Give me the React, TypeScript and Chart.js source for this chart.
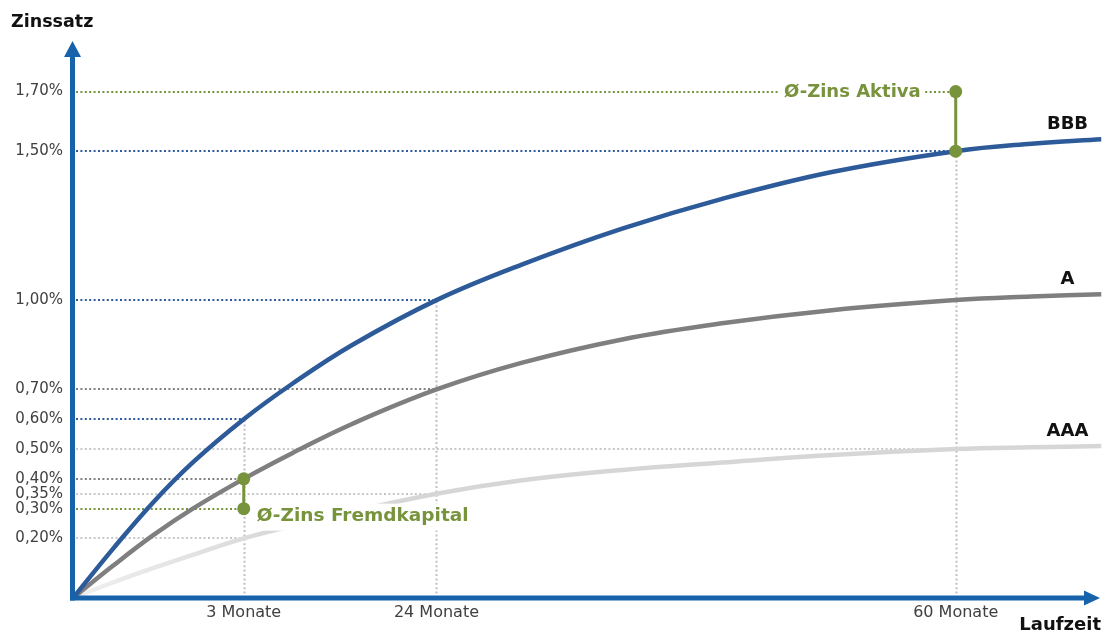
import React, { useEffect, useRef } from "react";
import { Chart, registerables } from "chart.js";

Chart.register(...registerables);

// ---- data ----
// x positions are relative "Laufzeit" units (conceptual, non-linear time axis)
const M3 = 17.1;
const M24 = 36.4;
const M60 = 88.4;
const X_MAX = 103;

const xTickValues = [M3, M24, M60];
const xTickLabels = ["3 Monate", "24 Monate", "60 Monate"];

const yTickValues = [1.7, 1.5, 1.0, 0.7, 0.6, 0.5, 0.4, 0.35, 0.3, 0.2];

const curveX = [0, 4, 8, 12, M3, 22, 28, M24, 45, 55, 65, 76, M60, 96, X_MAX];
const bbbValues = [0, 0.165, 0.32, 0.455, 0.6, 0.72, 0.85, 1.0, 1.12, 1.24, 1.34, 1.43, 1.5, 1.525, 1.54];
const aValues = [0, 0.108, 0.21, 0.3, 0.4, 0.487, 0.585, 0.7, 0.79, 0.868, 0.922, 0.966, 1.0, 1.012, 1.02];
const aaaValues = [0, 0.052, 0.1, 0.145, 0.2, 0.242, 0.29, 0.35, 0.395, 0.43, 0.455, 0.48, 0.5, 0.506, 0.51];

const seriesNames = ["BBB", "A", "AAA"];

const fremdkapitalValues = [0.3, 0.4]; // at 3 Monate
const aktivaValues = [1.5, 1.7]; // at 60 Monate

const GREEN = "#77933c";
const BLUE = "#2d5a98";
const AXIS = "#1763ab";
const DGRAY = "#7f7f7f";
const LGRAY = "#d6d6d6";

const guideLines = [
  { y: 1.7, xEnd: M60, color: GREEN },
  { y: 1.5, xEnd: M60, color: BLUE },
  { y: 1.0, xEnd: M24, color: BLUE },
  { y: 0.7, xEnd: M24, color: "#808080" },
  { y: 0.6, xEnd: M3, color: BLUE },
  { y: 0.5, xEnd: M60, color: "#c8c8c8" },
  { y: 0.4, xEnd: M3, color: "#808080" },
  { y: 0.35, xEnd: M24, color: "#c8c8c8" },
  { y: 0.3, xEnd: M3, color: GREEN },
  { y: 0.2, xEnd: M3, color: "#c8c8c8" },
];
const guideVerticals = [
  { x: M3, yTop: 0.6 },
  { x: M24, yTop: 1.0 },
  { x: M60, yTop: 1.5 },
];

const FONT = "'DejaVu Sans', sans-serif";

const toPts = (vals: number[]) => vals.map((v, i) => ({ x: curveX[i], y: v }));

const decorPlugin = {
  id: "decor",
  beforeDatasetsDraw(chart: any) {
    const { ctx, scales } = chart;
    const xs = scales.x;
    const ys = scales.y;
    ctx.save();
    ctx.lineWidth = 2;
    ctx.setLineDash([2, 2.4]);
    guideVerticals.forEach((g) => {
      ctx.strokeStyle = "#bfbfbf";
      ctx.beginPath();
      const px = Math.round(xs.getPixelForValue(g.x)) + 0.5;
      ctx.moveTo(px, ys.getPixelForValue(0));
      ctx.lineTo(px, ys.getPixelForValue(g.yTop));
      ctx.stroke();
    });
    guideLines.forEach((g) => {
      ctx.strokeStyle = g.color;
      ctx.beginPath();
      const py = Math.round(ys.getPixelForValue(g.y));
      ctx.moveTo(xs.getPixelForValue(0) + 3, py);
      ctx.lineTo(xs.getPixelForValue(g.xEnd), py);
      ctx.stroke();
    });
    ctx.restore();
  },
  afterDatasetsDraw(chart: any) {
    const { ctx, scales } = chart;
    const xs = scales.x;
    const ys = scales.y;
    ctx.save();
    ctx.textBaseline = "middle";
    // Aktiva
    {
      ctx.font = `bold 18px ${FONT}`;
      const t = "Ø-Zins Aktiva";
      const w = ctx.measureText(t).width;
      const right = xs.getPixelForValue(M60) - 35;
      const cy = ys.getPixelForValue(aktivaValues[1]);
      ctx.fillStyle = "#ffffff";
      ctx.fillRect(right - w - 4, cy - 12, w + 8, 24);
      ctx.fillStyle = GREEN;
      ctx.textAlign = "right";
      ctx.fillText(t, right, cy + 1);
    }
    // Fremdkapital
    {
      ctx.font = `bold 18.5px ${FONT}`;
      const t = "Ø-Zins Fremdkapital";
      const w = ctx.measureText(t).width;
      const left = xs.getPixelForValue(M3) + 13;
      const cy = ys.getPixelForValue(fremdkapitalValues[0]) + 8;
      ctx.fillStyle = "#ffffff";
      ctx.fillRect(left - 4, cy - 13, w + 8, 27);
      ctx.fillStyle = GREEN;
      ctx.textAlign = "left";
      ctx.fillText(t, left, cy);
    }
    // series names
    ctx.fillStyle = "#111111";
    ctx.textAlign = "center";
    ctx.font = `bold 18px ${FONT}`;
    [bbbValues, aValues, aaaValues].forEach((vals, i) => {
      const last = vals.length - 1;
      const px = xs.getPixelForValue(curveX[last]) - 34;
      const py = ys.getPixelForValue(vals[last]) - 15;
      ctx.fillText(seriesNames[i], px, py);
    });
    ctx.restore();
  },
  afterDraw(chart: any) {
    const { ctx, chartArea } = chart;
    const L = chartArea.left - 0.5;
    const B = chartArea.bottom;
    ctx.save();
    ctx.strokeStyle = AXIS;
    ctx.fillStyle = AXIS;
    ctx.lineWidth = 5;
    ctx.beginPath();
    ctx.moveTo(L, B + 2.5);
    ctx.lineTo(L, 55);
    ctx.stroke();
    ctx.beginPath();
    ctx.moveTo(L, 41);
    ctx.lineTo(L - 8.5, 57);
    ctx.lineTo(L + 8.5, 57);
    ctx.closePath();
    ctx.fill();
    ctx.beginPath();
    ctx.moveTo(L - 2.5, B);
    ctx.lineTo(1087, B);
    ctx.stroke();
    ctx.beginPath();
    ctx.moveTo(1100, B);
    ctx.lineTo(1084, B - 7.5);
    ctx.lineTo(1084, B + 7.5);
    ctx.closePath();
    ctx.fill();
    // axis titles
    ctx.fillStyle = "#111111";
    ctx.font = `bold 17.5px ${FONT}`;
    ctx.textBaseline = "middle";
    ctx.textAlign = "left";
    ctx.fillText("Zinssatz", 11, 22);
    ctx.font = `bold 18px ${FONT}`;
    ctx.textAlign = "right";
    ctx.fillText("Laufzeit", 1101, 625);
    ctx.restore();
  },
};

export default function App() {
  const ref = useRef<HTMLCanvasElement | null>(null);
  useEffect(() => {
    if (!ref.current) return;
    const chart = new Chart(ref.current, {
      type: "line",
      data: {
        datasets: [
          {
            label: "Fremdkapital",
            data: fremdkapitalValues.map((v) => ({ x: M3, y: v })),
            borderColor: GREEN,
            backgroundColor: GREEN,
            borderWidth: 3,
            pointRadius: 6.5,
            pointBorderWidth: 0,
            tension: 0,
            order: 0,
          },
          {
            label: "Aktiva",
            data: aktivaValues.map((v) => ({ x: M60, y: v })),
            borderColor: GREEN,
            backgroundColor: GREEN,
            borderWidth: 3,
            pointRadius: 6.5,
            pointBorderWidth: 0,
            tension: 0,
            order: 0,
          },
          {
            label: "BBB",
            data: toPts(bbbValues),
            borderColor: BLUE,
            borderWidth: 4.5,
            pointRadius: 0,
            tension: 0.4,
            order: 1,
          },
          {
            label: "A",
            data: toPts(aValues),
            borderColor: DGRAY,
            borderWidth: 4.5,
            pointRadius: 0,
            tension: 0.4,
            order: 2,
          },
          {
            label: "AAA",
            data: toPts(aaaValues),
            borderColor: (c: any) => {
              const ca = c.chart.chartArea;
              if (!ca) return LGRAY;
              const g = c.chart.ctx.createLinearGradient(ca.left, 0, ca.left + 220, 0);
              g.addColorStop(0, "#f0f0f0");
              g.addColorStop(1, LGRAY);
              return g;
            },
            borderWidth: 4.5,
            pointRadius: 0,
            tension: 0.4,
            order: 3,
          },
        ],
      },
      options: {
        animation: false,
        responsive: true,
        maintainAspectRatio: false,
        layout: { padding: { top: 32, right: 5, left: 0, bottom: 0 } },
        plugins: { legend: { display: false }, tooltip: { enabled: false } },
        scales: {
          x: {
            type: "linear",
            min: 0,
            max: X_MAX,
            grid: { display: false, drawTicks: false },
            border: { display: false },
            afterBuildTicks: (s: any) => {
              s.ticks = xTickValues.map((v) => ({ value: v }));
            },
            afterFit: (s: any) => {
              s.height = 36;
            },
            ticks: {
              autoSkip: false,
              maxRotation: 0,
              padding: 5,
              color: "#404040",
              font: { family: FONT, size: 16 },
              callback: (_v: any, i: number) => xTickLabels[i],
            },
          },
          y: {
            type: "linear",
            min: 0,
            max: 1.9,
            grid: { display: false, drawTicks: false },
            border: { display: false },
            afterBuildTicks: (s: any) => {
              s.ticks = yTickValues.map((v) => ({ value: v }));
            },
            afterFit: (s: any) => {
              s.width = 73;
            },
            ticks: {
              autoSkip: false,
              padding: 10,
              color: "#404040",
              font: { family: FONT, size: 15 },
              callback: (v: any) => Number(v).toFixed(2).replace(".", ",") + "%",
            },
          },
        },
      },
      plugins: [decorPlugin],
    } as any);
    return () => chart.destroy();
  }, []);
  return (
    <div style={{ position: "absolute", left: 0, top: 0, width: 1108, height: 634, background: "#fff" }}>
      <canvas ref={ref} />
    </div>
  );
}
